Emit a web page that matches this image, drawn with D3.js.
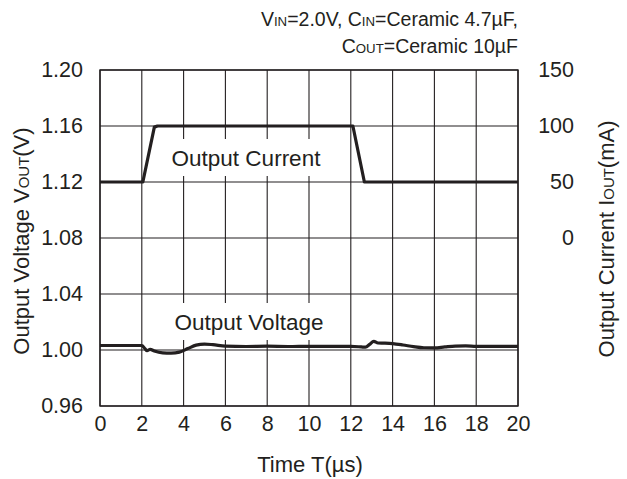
<!DOCTYPE html>
<html>
<head>
<meta charset="utf-8">
<script src="https://cdn.jsdelivr.net/npm/d3@7"></script>
<style>
  body { margin: 0; background: #fff; }
  text { font-family: "Liberation Sans", Arial, sans-serif; fill: #231f20; }
</style>
</head>
<body>
<script>
// time axis (us) and tick labels
var timeTicks = [0, 2, 4, 6, 8, 10, 12, 14, 16, 18, 20];
var voltTicks = [0.96, 1.00, 1.04, 1.08, 1.12, 1.16, 1.20];
var currTicks = [0, 50, 100, 150];

// output current trace (mA)
var currT = [0, 2.05, 2.6, 2.75, 12.1, 12.65, 20];
var currI = [50, 50, 99, 100, 100, 50, 50];

// output voltage trace (V)
var voltT = [0, 1, 2.0, 2.15, 2.25, 2.4, 2.6, 3.0, 3.4, 3.8, 4.2, 4.6, 5.0, 5.4, 6.0, 7, 8, 9, 10, 11, 12, 12.5, 12.7, 12.9, 13.1, 13.3, 13.6, 14.0, 14.5, 15.0, 15.5, 16, 16.5, 17, 17.5, 18, 19, 20];
var voltV = [1.0032, 1.0032, 1.0032, 1.001, 0.9995, 1.0005, 0.9993, 0.998, 0.9978, 0.9985, 1.001, 1.0035, 1.0042, 1.0038, 1.0028, 1.0025, 1.0027, 1.0025, 1.0026, 1.0026, 1.0026, 1.0022, 1.002, 1.004, 1.0062, 1.005, 1.0049, 1.0046, 1.0036, 1.0024, 1.0016, 1.0015, 1.0022, 1.0028, 1.0029, 1.0026, 1.0026, 1.0026];

var W = 627, H = 479;
var plotL = 100, plotR = 518, plotT = 70, plotB = 406;

var svg = d3.select("body").append("svg")
    .attr("width", W)
    .attr("height", H);

var x = d3.scaleLinear().domain([0, 20]).range([plotL, plotR]);
var yV = d3.scaleLinear().domain([0.96, 1.20]).range([plotB, plotT]);
var yI = d3.scaleLinear().domain([-150, 150]).range([plotB, plotT]);

// grid
var grid = svg.append("g").attr("stroke", "#231f20").attr("stroke-width", 1.1);
grid.selectAll("line.v")
    .data(timeTicks)
    .enter().append("line")
    .attr("x1", d => x(d)).attr("x2", d => x(d))
    .attr("y1", plotT).attr("y2", plotB);
grid.selectAll("line.h")
    .data(voltTicks)
    .enter().append("line")
    .attr("x1", plotL).attr("x2", plotR)
    .attr("y1", d => yV(d)).attr("y2", d => yV(d));

// axes (labels only)
var xAxis = svg.append("g")
    .attr("transform", `translate(0,${plotB})`)
    .call(d3.axisBottom(x).tickValues(timeTicks).tickSize(0).tickPadding(10).tickFormat(d3.format("d")));
var yAxisL = svg.append("g")
    .attr("transform", `translate(${plotL},0)`)
    .call(d3.axisLeft(yV).tickValues(voltTicks).tickSize(0).tickPadding(17).tickFormat(d3.format(".2f")));
var yAxisR = svg.append("g")
    .attr("transform", `translate(${plotR},0)`)
    .call(d3.axisRight(yI).tickValues(currTicks).tickSize(0).tickPadding(56).tickFormat(d3.format("d")));
yAxisR.selectAll("text").attr("text-anchor", "end");

[xAxis, yAxisL, yAxisR].forEach(a => {
    a.select(".domain").remove();
    a.selectAll("text")
        .style("font-family", '"Liberation Sans", Arial, sans-serif')
        .style("font-size", "21.5px")
        .attr("fill", "#231f20");
});

// series labels with white background
function seriesLabel(txt, cx, baseline) {
    var g = svg.append("g");
    g.append("rect")
        .attr("x", cx - 86).attr("y", baseline - 27)
        .attr("width", 172).attr("height", 37)
        .attr("fill", "#fff");
    g.append("text")
        .attr("x", cx).attr("y", baseline)
        .attr("text-anchor", "middle")
        .style("font-size", "22.5px")
        .text(txt);
}
seriesLabel("Output Current", 246, 166);
seriesLabel("Output Voltage", 249, 330);

// traces
var lineStraight = d3.line();
var lineSmooth = d3.line().curve(d3.curveMonotoneX);
svg.append("path")
    .attr("d", lineStraight(currT.map((t, i) => [x(t), yI(currI[i])])))
    .attr("fill", "none")
    .attr("stroke", "#231f20")
    .attr("stroke-width", 3.2)
    .attr("stroke-linejoin", "round");
svg.append("path")
    .attr("d", lineSmooth(voltT.map((t, i) => [x(t), yV(voltV[i])])))
    .attr("fill", "none")
    .attr("stroke", "#231f20")
    .attr("stroke-width", 3.2);

// frame
svg.append("rect")
    .attr("x", plotL).attr("y", plotT)
    .attr("width", plotR - plotL).attr("height", plotB - plotT)
    .attr("fill", "none")
    .attr("stroke", "#231f20")
    .attr("stroke-width", 1.4);

// text with small-caps subscripts
function richText(parent, parts, size) {
    var t = parent.append("text").style("font-size", size + "px");
    parts.forEach(p => {
        t.append("tspan")
            .style("font-size", p[1] ? (size * 0.68) + "px" : null)
            .text(p[0]);
    });
    return t;
}

richText(svg, [["V"], ["IN", 1], ["=2.0V, C"], ["IN", 1], ["=Ceramic 4.7\u00b5F,"]], 19.5)
    .attr("x", 518).attr("y", 26).attr("text-anchor", "end");
richText(svg, [["C"], ["OUT", 1], ["=Ceramic 10\u00b5F"]], 19.5)
    .attr("x", 518).attr("y", 53).attr("text-anchor", "end");

richText(svg, [["Output Voltage V"], ["OUT", 1], ["(V)"]], 22)
    .attr("text-anchor", "middle")
    .attr("transform", "translate(29,241) rotate(-90)");
richText(svg, [["Output Current I"], ["OUT", 1], ["(mA)"]], 22)
    .attr("text-anchor", "middle")
    .attr("transform", "translate(614,239) rotate(-90)");

svg.append("text")
    .attr("x", 310).attr("y", 472)
    .attr("text-anchor", "middle")
    .style("font-size", "22px")
    .text("Time T(\u00b5s)");
</script>
</body>
</html>
